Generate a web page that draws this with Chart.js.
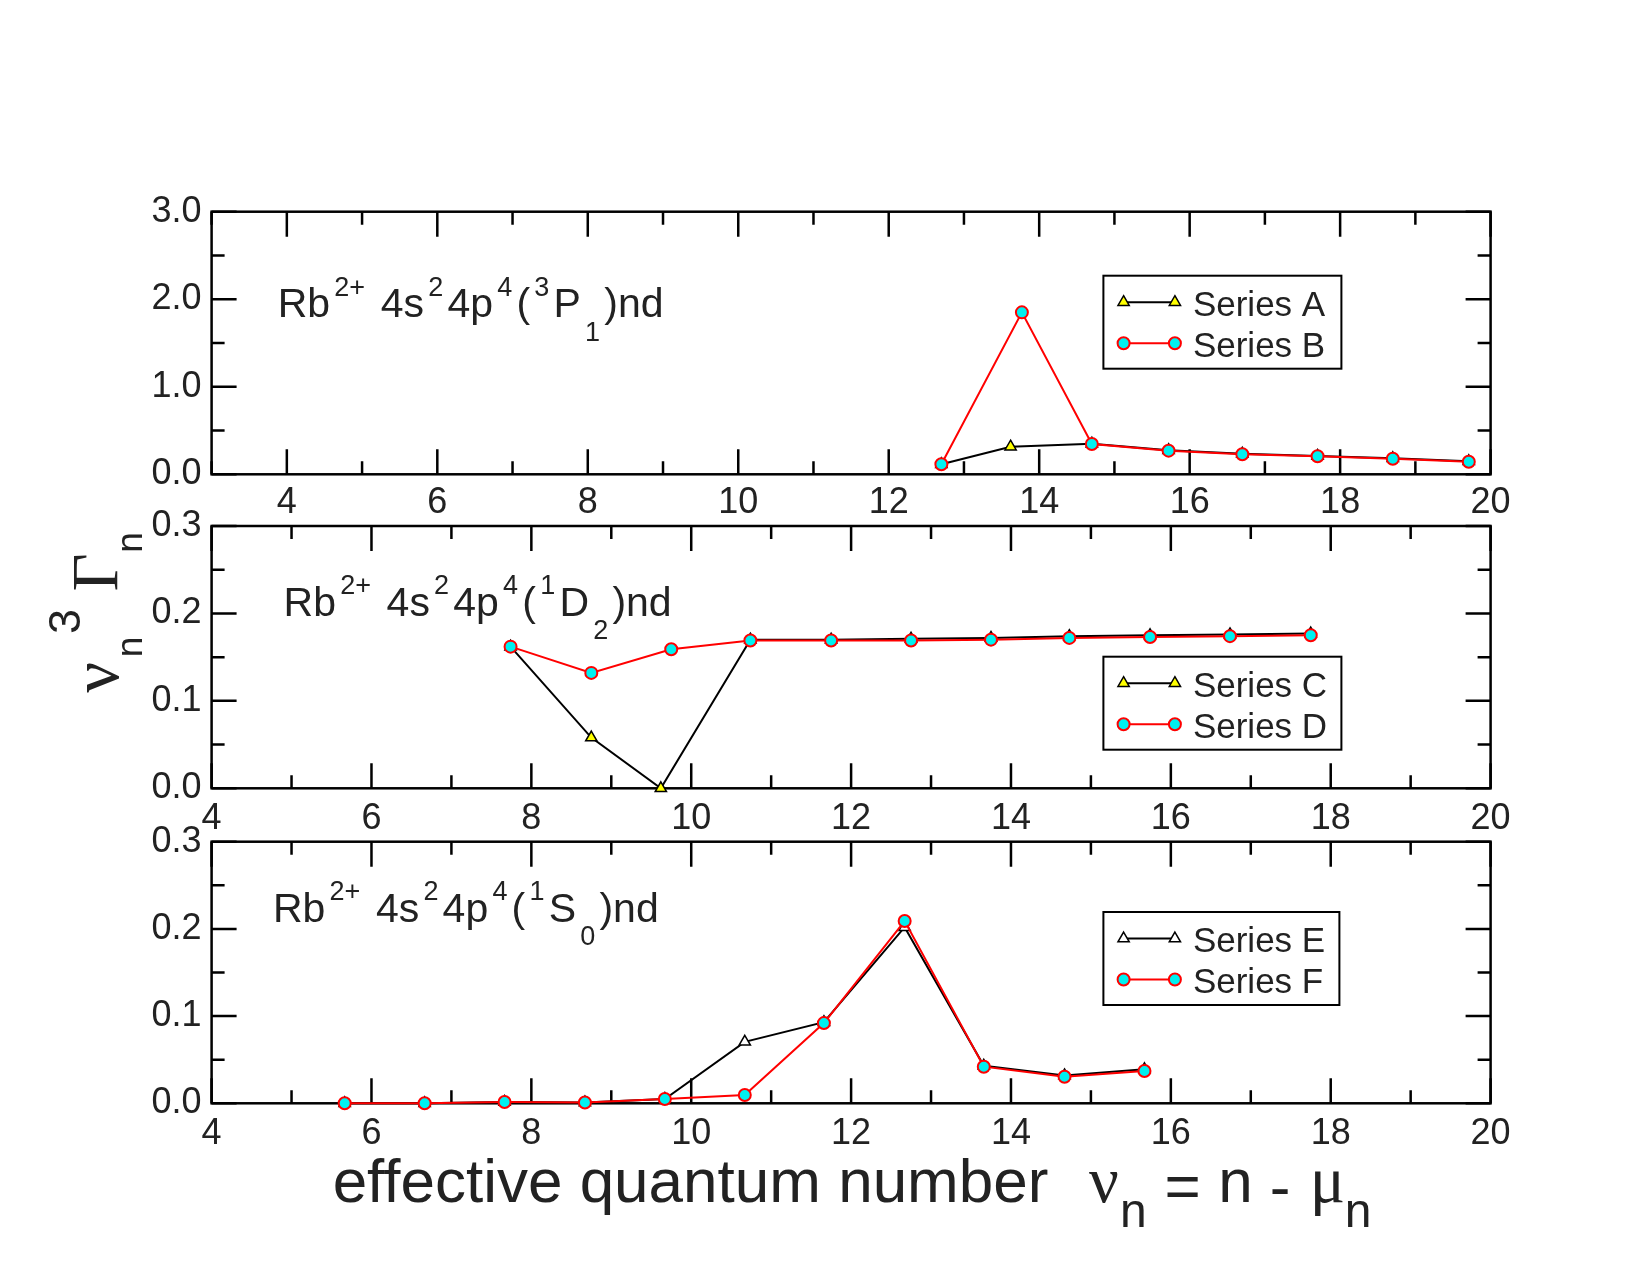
<!DOCTYPE html>
<html><head><meta charset="utf-8">
<script src="https://cdn.jsdelivr.net/npm/chart.js@4.4.1/dist/chart.umd.min.js"></script>
<style>
html,body{margin:0;padding:0;background:#fff;}
#wrap{position:relative;width:1650px;height:1275px;background:#fff;overflow:hidden;}
canvas{position:absolute;left:0;top:0;}
</style></head><body>
<div id="wrap">
<canvas id="c1" width="1650" height="1275"></canvas>
<canvas id="c2" width="1650" height="1275"></canvas>
<canvas id="c3" width="1650" height="1275"></canvas>
</div>
<script>
// ---------------- DATA ----------------
// Panel 1: Rb2+ 4s2 4p4 (3P1) nd
const seriesA_x = [12.70, 13.62, 14.70, 15.72, 16.70, 17.70, 18.70, 19.71];
const seriesA_y = [0.114, 0.315, 0.350, 0.275, 0.234, 0.210, 0.182, 0.148];
const seriesB_x = [12.70, 13.77, 14.70, 15.72, 16.70, 17.70, 18.70, 19.71];
const seriesB_y = [0.114, 1.850, 0.346, 0.270, 0.229, 0.206, 0.178, 0.144];
// Panel 2: Rb2+ 4s2 4p4 (1D2) nd
const seriesC_x = [7.74, 8.75, 9.62, 10.74, 11.75, 12.75, 13.75, 14.73, 15.74, 16.74, 17.75];
const seriesC_y = [0.162, 0.058, 0.000, 0.170, 0.170, 0.171, 0.172, 0.174, 0.175, 0.176, 0.177];
const seriesD_x = [7.74, 8.75, 9.75, 10.74, 11.75, 12.75, 13.75, 14.73, 15.74, 16.74, 17.75];
const seriesD_y = [0.162, 0.132, 0.159, 0.169, 0.169, 0.169, 0.170, 0.172, 0.173, 0.174, 0.175];
// Panel 3: Rb2+ 4s2 4p4 (1S0) nd
const seriesE_x = [5.665, 6.665, 7.665, 8.67, 9.67, 10.67, 11.66, 12.67, 13.66, 14.67, 15.67];
const seriesE_y = [0.000, 0.000, 0.0015, 0.001, 0.005, 0.0705, 0.093, 0.202, 0.043, 0.032, 0.039];
const seriesF_x = [5.665, 6.665, 7.665, 8.67, 9.67, 10.67, 11.66, 12.67, 13.66, 14.67, 15.67];
const seriesF_y = [0.000, 0.000, 0.0015, 0.001, 0.005, 0.0095, 0.092, 0.209, 0.042, 0.0305, 0.037];

const seriesNames = ['Series A', 'Series B', 'Series C', 'Series D', 'Series E', 'Series F'];

// Tick values
const xTicks1 = [4, 6, 8, 10, 12, 14, 16, 18, 20];
const xMinor1 = [3, 5, 7, 9, 11, 13, 15, 17, 19];
const xTicks23 = [4, 6, 8, 10, 12, 14, 16, 18, 20];
const xMinor23 = [5, 7, 9, 11, 13, 15, 17, 19];
const yTicks1 = [0, 1, 2, 3];
const yMinor1 = [0.5, 1.5, 2.5];
const yTicks23 = [0, 0.1, 0.2, 0.3];
const yMinor23 = [0.05, 0.15, 0.25];

// Text labels
const annot1 = [['Rb','m'],['2+','sup'],[' 4s','m'],['2','sup'],['4p','m'],['4','sup'],['(','m'],['3','sup'],['P','m'],['1','sub'],[')nd','m']];
const annot2 = [['Rb','m'],['2+','sup'],[' 4s','m'],['2','sup'],['4p','m'],['4','sup'],['(','m'],['1','sup'],['D','m'],['2','sub'],[')nd','m']];
const annot3 = [['Rb','m'],['2+','sup'],[' 4s','m'],['2','sup'],['4p','m'],['4','sup'],['(','m'],['1','sup'],['S','m'],['0','sub'],[')nd','m']];
const yTitleParts = [['ν','serif','main'],['n','sans','sub'],['3','sans','sup'],['Γ','serif','main'],['n','sans','sub']];
const xTitleParts = [['effective quantum number','sans','main'],['ν','serif','main'],['n','sans','sub'],['=','sans','op'],['n','sans','main'],['-','sans','op'],['μ','serif','main'],['n','sans','sub']];

// ---------------- STYLE / LAYOUT ----------------
const TXT = '#222';
const SANS = "'Liberation Sans', Arial, Helvetica, sans-serif";
const SERIF = "'Liberation Serif', 'Times New Roman', serif";
const PAGE_H = 1275;
const PLOT_LEFT = 211.6;
const PAD_RIGHT = 1650 - 1490.6;
const X_AXIS_H = 50;

function pts(xs, ys) { return xs.map((x, i) => ({x: x, y: ys[i]})); }

function triSet(label, xs, ys, fill) {
  return {label: label, data: pts(xs, ys), showLine: true, borderColor: '#000', borderWidth: 2,
    pointStyle: 'triangle', pointRadius: 6.5, pointHoverRadius: 6.5, pointBackgroundColor: fill,
    pointBorderColor: '#000', pointBorderWidth: 1.5, tension: 0, clip: false, order: 2};
}
function circSet(label, xs, ys) {
  return {label: label, data: pts(xs, ys), showLine: true, borderColor: '#ff0000', borderWidth: 2,
    pointStyle: 'circle', pointRadius: 6, pointHoverRadius: 6, pointBackgroundColor: '#00f0f0',
    pointBorderColor: '#ff0000', pointBorderWidth: 2, tension: 0, clip: false, order: 1};
}

function drawRich(ctx, pieces, x, base) {
  ctx.fillStyle = TXT;
  ctx.textAlign = 'left';
  ctx.textBaseline = 'alphabetic';
  for (const [t, kind] of pieces) {
    const size = kind === 'm' ? 41 : 27;
    const dy = kind === 'sup' ? -21.7 : (kind === 'sub' ? 23.3 : 0);
    ctx.font = size + 'px ' + SANS;
    ctx.fillText(t, x, base + dy);
    x += ctx.measureText(t).width + 4.2;
  }
}

const panelPlugin = {
  id: 'panelDeco',
  beforeDatasetsDraw(chart, args, o) {
    const {ctx, chartArea: a} = chart;
    const xs = chart.scales.x, ys = chart.scales.y;
    ctx.save();
    ctx.strokeStyle = '#000';
    ctx.lineWidth = 2.5;
    ctx.beginPath();
    const xt = (vals, len) => vals.forEach(v => {
      const p = xs.getPixelForValue(v);
      ctx.moveTo(p, a.bottom); ctx.lineTo(p, a.bottom - len);
      ctx.moveTo(p, a.top); ctx.lineTo(p, a.top + len);
    });
    const yt = (vals, len) => vals.forEach(v => {
      const p = ys.getPixelForValue(v);
      ctx.moveTo(a.left, p); ctx.lineTo(a.left + len, p);
      ctx.moveTo(a.right, p); ctx.lineTo(a.right - len, p);
    });
    xt(o.xMajor, 25); xt(o.xMinor, 13);
    yt(o.yMajor, 25); yt(o.yMinor, 13);
    ctx.stroke();
    ctx.strokeRect(a.left, a.top, a.right - a.left, a.bottom - a.top);
    ctx.restore();
  },
  afterDatasetsDraw(chart, args, o) {
    const {ctx, chartArea: a} = chart;
    ctx.save();
    // legend box
    const bx = a.left + 891.8, by = a.top + o.legTop, bw = o.legW, bh = 93;
    ctx.fillStyle = '#fff';
    ctx.fillRect(bx, by, bw, bh);
    ctx.strokeStyle = '#000';
    ctx.lineWidth = 2;
    ctx.strokeRect(bx, by, bw, bh);
    chart.data.datasets.forEach((ds, i) => {
      const ry = by + 26.5 + i * 41;
      const x1 = bx + 20.2, x2 = bx + 71.5;
      ctx.strokeStyle = ds.borderColor;
      ctx.lineWidth = ds.borderWidth;
      ctx.beginPath(); ctx.moveTo(x1, ry); ctx.lineTo(x2, ry); ctx.stroke();
      [x1, x2].forEach(px => {
        ctx.fillStyle = ds.pointBackgroundColor;
        ctx.strokeStyle = ds.pointBorderColor;
        ctx.lineWidth = ds.pointBorderWidth;
        Chart.helpers.drawPoint(ctx, {pointStyle: ds.pointStyle, radius: ds.pointRadius,
          borderWidth: ds.pointBorderWidth, rotation: 0}, px, ry);
      });
      ctx.fillStyle = TXT;
      ctx.font = '35px ' + SANS;
      ctx.textAlign = 'left';
      ctx.textBaseline = 'alphabetic';
      ctx.fillText(ds.label, bx + 89.5, ry + 13.3);
    });
    // panel annotation
    drawRich(ctx, o.annot, o.annotX, a.top + o.annotBase);
    // axis titles
    if (o.yTitle) {
      const place = [[677.5, 118], [647, 142], [621.5, 80], [572.5, 117], [542.5, 142]];
      o.yTitle.forEach((p, i) => {
        const [t, fam, kind] = p;
        const size = kind === 'main' ? (t === 'ν' ? 68 : 66) : (kind === 'sup' ? 45 : 37);
        ctx.save();
        ctx.translate(place[i][1], place[i][0]);
        ctx.rotate(-Math.PI / 2);
        ctx.font = size + 'px ' + (fam === 'serif' ? SERIF : SANS);
        ctx.fillStyle = TXT;
        ctx.textAlign = 'center';
        ctx.textBaseline = 'alphabetic';
        ctx.fillText(t, 0, 0);
        ctx.restore();
      });
    }
    if (o.xTitle) {
      const place = [[690.5, 1201.7], [1103.8, 1201.7], [1133.3, 1226.7], [1182.5, 1207], [1235.5, 1201.7], [1280, 1208], [1327.5, 1201.7], [1358, 1226.7]];
      o.xTitle.forEach((p, i) => {
        const [t, fam, kind] = p;
        const size = kind === 'sub' ? 48 : (fam === 'serif' ? 66 : 62);
        ctx.font = size + 'px ' + (fam === 'serif' ? SERIF : SANS);
        ctx.fillStyle = TXT;
        ctx.textAlign = 'center';
        ctx.textBaseline = 'alphabetic';
        ctx.fillText(t, place[i][0], place[i][1]);
      });
    }
    ctx.restore();
  }
};

function makeChart(id, cfg) {
  return new Chart(document.getElementById(id), {
    type: 'scatter',
    data: {datasets: cfg.datasets},
    options: {
      responsive: false, animation: false, devicePixelRatio: 1,
      events: [],
      layout: {padding: {left: 0, right: PAD_RIGHT, top: cfg.top, bottom: PAGE_H - cfg.bottom - X_AXIS_H}},
      plugins: {
        legend: {display: false}, tooltip: {enabled: false},
        panelDeco: cfg.deco
      },
      scales: {
        x: {
          type: 'linear', position: 'bottom', min: cfg.xMin, max: 20,
          grid: {display: false, drawTicks: false}, border: {display: false},
          ticks: {font: {family: SANS, size: 36}, color: TXT, padding: cfg.xPad, autoSkip: false,
            maxRotation: 0, minRotation: 0, callback: v => String(v)},
          afterBuildTicks: s => { s.ticks = cfg.xTicks.map(v => ({value: v})); },
          afterFit: s => { s.height = X_AXIS_H; }
        },
        y: {
          type: 'linear', position: 'left', min: 0, max: cfg.yMax,
          grid: {display: false, drawTicks: false}, border: {display: false},
          ticks: {font: {family: SANS, size: 36}, color: TXT, padding: 10, autoSkip: false,
            callback: v => Number(v).toFixed(1)},
          afterBuildTicks: s => { s.ticks = cfg.yTicks.map(v => ({value: v})); },
          afterFit: s => { s.width = PLOT_LEFT; }
        }
      }
    },
    plugins: [panelPlugin]
  });
}

makeChart('c1', {
  datasets: [triSet(seriesNames[0], seriesA_x, seriesA_y, '#ffff00'), circSet(seriesNames[1], seriesB_x, seriesB_y)],
  top: 211.7, bottom: 474.3, xMin: 3, yMax: 3, xTicks: xTicks1, yTicks: yTicks1, xPad: 7,
  deco: {xMajor: xTicks1, xMinor: xMinor1, yMajor: yTicks1, yMinor: yMinor1, legTop: 64, legW: 238,
    annot: annot1, annotX: 277.7, annotBase: 105.5}
});
makeChart('c2', {
  datasets: [triSet(seriesNames[2], seriesC_x, seriesC_y, '#ffff00'), circSet(seriesNames[3], seriesD_x, seriesD_y)],
  top: 526, bottom: 788.3, xMin: 4, yMax: 0.3, xTicks: xTicks23, yTicks: yTicks23, xPad: 9.5,
  deco: {xMajor: xTicks23, xMinor: xMinor23, yMajor: yTicks23, yMinor: yMinor23, legTop: 130.7, legW: 238,
    annot: annot2, annotX: 283.6, annotBase: 89.6, yTitle: yTitleParts}
});
makeChart('c3', {
  datasets: [triSet(seriesNames[4], seriesE_x, seriesE_y, '#ffffff'), circSet(seriesNames[5], seriesF_x, seriesF_y)],
  top: 841.7, bottom: 1103.3, xMin: 4, yMax: 0.3, xTicks: xTicks23, yTicks: yTicks23, xPad: 9.5,
  deco: {xMajor: xTicks23, xMinor: xMinor23, yMajor: yTicks23, yMinor: yMinor23, legTop: 70.3, legW: 236,
    annot: annot3, annotX: 272.9, annotBase: 80, xTitle: xTitleParts}
});
</script>
</body></html>
